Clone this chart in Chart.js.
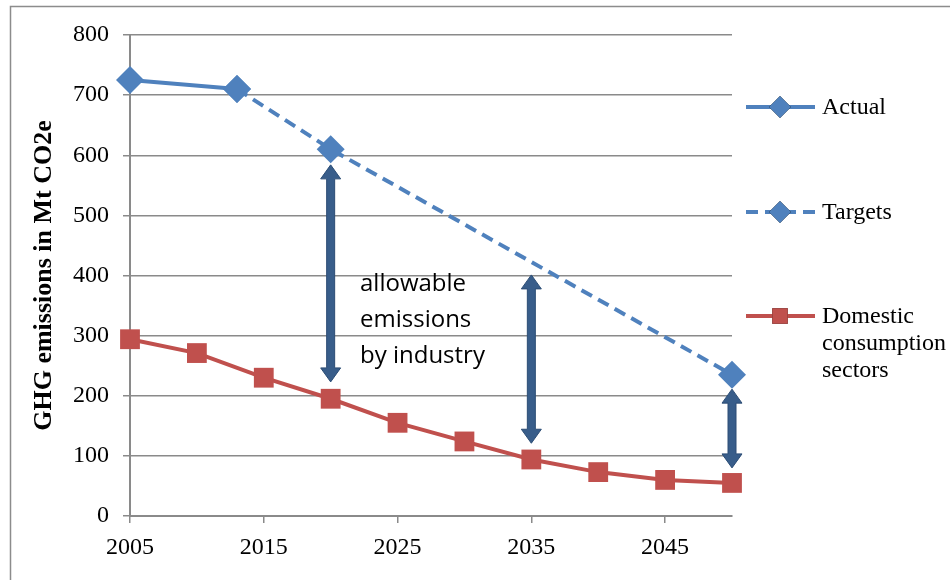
<!DOCTYPE html>
<html>
<head>
<meta charset="utf-8">
<script src="https://cdn.jsdelivr.net/npm/chart.js@4"></script>
<style>
  body { margin: 0; background: #fff; }
  #wrap { width: 950px; height: 580px; }
</style>
</head>
<body>
<div id="wrap"><canvas id="chart" width="950" height="580"></canvas></div>
<script>
// data
let actualYears = [2005, 2013];
let actualValues = [725, 710];
let targetYears = [2013, 2020, 2050];
let targetValues = [710, 610, 235];
let domesticYears = [2005, 2010, 2015, 2020, 2025, 2030, 2035, 2040, 2045, 2050];
let domesticValues = [294, 271, 230, 195, 155, 124, 94, 73, 60, 55];
let xTicks = [2005, 2015, 2025, 2035, 2045];
let arrowYears = [2020, 2035, 2050];
let arrowTops = [584, 401, 211];
let arrowBottoms = [223, 121, 80];
let noteLines = ["allowable", "emissions", "by industry"];

let blue = "#4F81BD";
let red = "#C0504D";
let arrowColor = "#385D8A";
let gridColor = "#8A8A8A";
let serif = "'Liberation Serif', 'Times New Roman', serif";

function toPoints(xs, ys) {
    return xs.map((x, i) => ({ x: x, y: ys[i] }));
}

// frame, arrows, note text and legend
let extras = {
    id: "extras",
    beforeDraw(chart) {
        let ctx = chart.ctx;
        ctx.save();
        ctx.strokeStyle = "#8C8C8C";
        ctx.lineWidth = 1.5;
        ctx.strokeRect(10.5, 6.5, 1000, 1000);
        ctx.restore();
    },
    afterDatasetsDraw(chart) {
        let ctx = chart.ctx;
        let xs = chart.scales.x;
        let ys = chart.scales.y;
        ctx.save();
        ctx.fillStyle = arrowColor;
        ctx.strokeStyle = "#2C4D75";
        ctx.lineWidth = 1;
        arrowYears.forEach((yr, i) => {
            let x = xs.getPixelForValue(yr);
            let top = ys.getPixelForValue(arrowTops[i]);
            let bot = ys.getPixelForValue(arrowBottoms[i]);
            let hw = 10, hh = 14, sw = 4;
            ctx.beginPath();
            ctx.moveTo(x, top);
            ctx.lineTo(x + hw, top + hh);
            ctx.lineTo(x + sw, top + hh);
            ctx.lineTo(x + sw, bot - hh);
            ctx.lineTo(x + hw, bot - hh);
            ctx.lineTo(x, bot);
            ctx.lineTo(x - hw, bot - hh);
            ctx.lineTo(x - sw, bot - hh);
            ctx.lineTo(x - sw, top + hh);
            ctx.lineTo(x - hw, top + hh);
            ctx.closePath();
            ctx.fill();
            ctx.stroke();
        });

        ctx.fillStyle = "#000";
        ctx.font = "24px 'Open Sans', sans-serif";
        ctx.textBaseline = "middle";
        ctx.textAlign = "left";
        noteLines.forEach((t, i) => ctx.fillText(t, 360, 284 + i * 36));

        // legend
        let items = [
            { ds: chart.data.datasets[0], y: 107, lines: ["Actual"] },
            { ds: chart.data.datasets[1], y: 212, lines: ["Targets"] },
            { ds: chart.data.datasets[2], y: 316, lines: ["Domestic", "consumption", "sectors"] }
        ];
        ctx.font = "24px " + serif;
        items.forEach(it => {
            let ds = it.ds;
            ctx.strokeStyle = ds.borderColor;
            ctx.lineWidth = ds.borderWidth;
            ctx.setLineDash(ds.borderDash || []);
            ctx.beginPath();
            ctx.moveTo(746, it.y);
            ctx.lineTo(815, it.y);
            ctx.stroke();
            ctx.setLineDash([]);
            Chart.helpers.drawPoint(ctx, {
                pointStyle: ds.pointStyle,
                radius: 11,
                borderWidth: 0
            }, 780, it.y);
            ctx.fillStyle = ds.pointBackgroundColor;
            ctx.fill();
            ctx.fillStyle = "#000";
            it.lines.forEach((t, i) => ctx.fillText(t, 822, it.y + 1 + i * 27));
        });
        ctx.restore();
    }
};

new Chart(document.getElementById("chart").getContext("2d"), {
    type: "line",
    data: {
        datasets: [{
            label: "Actual",
            data: toPoints(actualYears, actualValues),
            borderColor: blue,
            backgroundColor: blue,
            pointBackgroundColor: blue,
            borderWidth: 4,
            pointStyle: "rectRot",
            pointRadius: 14,
            pointBorderWidth: 0
        }, {
            label: "Targets",
            data: toPoints(targetYears, targetValues),
            borderColor: blue,
            backgroundColor: blue,
            pointBackgroundColor: blue,
            borderWidth: 4,
            borderDash: [12, 7],
            pointStyle: "rectRot",
            pointRadius: 14,
            pointBorderWidth: 0
        }, {
            label: "Domestic consumption sectors",
            data: toPoints(domesticYears, domesticValues),
            borderColor: red,
            backgroundColor: red,
            pointBackgroundColor: red,
            borderWidth: 4,
            pointStyle: "rect",
            pointRadius: 14,
            pointBorderWidth: 0
        }]
    },
    options: {
        responsive: false,
        animation: false,
        clip: false,
        layout: { padding: { left: 0, right: 218, top: 35, bottom: 0 } },
        plugins: {
            legend: { display: false },
            tooltip: { enabled: false }
        },
        scales: {
            x: {
                type: "linear",
                min: 2005,
                max: 2050,
                afterBuildTicks: s => { s.ticks = xTicks.map(v => ({ value: v })); },
                afterFit: s => { s.height = 64; },
                grid: { drawOnChartArea: false, color: gridColor, lineWidth: 1.5, tickLength: 7 },
                border: { color: gridColor, width: 2 },
                ticks: {
                    color: "#000",
                    font: { family: serif, size: 24 },
                    padding: 10,
                    maxRotation: 0,
                    callback: v => String(v)
                }
            },
            y: {
                min: 0,
                max: 800,
                ticks: { stepSize: 100, color: "#000", font: { family: serif, size: 24 }, padding: 14 },
                afterFit: s => { s.width = 130; },
                grid: { color: gridColor, lineWidth: 1.5, tickLength: 7 },
                border: { color: gridColor, width: 2 },
                title: {
                    display: true,
                    text: "GHG emissions in Mt CO2e",
                    color: "#000",
                    font: { family: serif, size: 26, weight: "bold" },
                    padding: { top: 29, bottom: 0 }
                }
            }
        }
    },
    plugins: [extras]
});
</script>
</body>
</html>
